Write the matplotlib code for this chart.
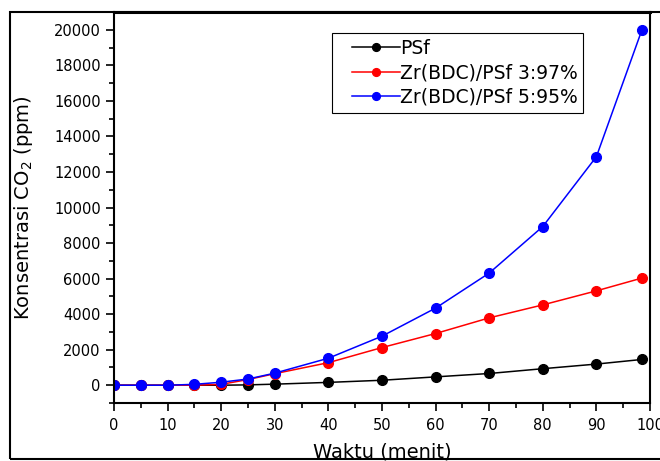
import matplotlib
matplotlib.use("Agg")
import matplotlib.pyplot as plt
from matplotlib.patches import Rectangle
from matplotlib.ticker import MultipleLocator
from matplotlib.legend_handler import HandlerLine2D

# DATOS
waktu = [0, 5, 10, 15, 20, 25, 30, 40, 50, 60, 70, 80, 90, 98.5]
psf = [0, 0, 0, 0, 0, 20, 60, 160, 280, 470, 660, 930, 1190, 1450]
zr_3_97 = [0, 0, 0, 0, 50, 320, 650, 1270, 2120, 2910, 3790, 4520, 5310, 6030]
zr_5_95 = [0, 0, 0, 50, 170, 350, 680, 1520, 2760, 4340, 6310, 8930, 12860, 20000]

labels = ["PSf", "Zr(BDC)/PSf 3:97%", "Zr(BDC)/PSf 5:95%"]
colores = ["black", "red", "blue"]

plt.rcParams["font.family"] = ["DejaVu Sans"]
plt.rcParams["mathtext.default"] = "regular"

fig = plt.figure(figsize=(6.6, 4.61), dpi=100)
ax = fig.add_axes([114 / 660, 1 - 403 / 461, 536 / 660, 391 / 461])

# marco exterior
fig.patches.append(Rectangle((10 / 660, 2 / 461), 1.0, 447 / 461,
                             transform=fig.transFigure, fill=False,
                             edgecolor="black", linewidth=1.5, zorder=10))

lineas = []
for serie, lab, col in zip([psf, zr_3_97, zr_5_95], labels, colores):
    ln, = ax.plot(waktu, serie, color=col, linewidth=1.1, marker="o",
                  markersize=7, label=lab)
    lineas.append(ln)

ax.set_xlim(0, 100)
ax.set_ylim(-1000, 21000)
ax.xaxis.set_major_locator(MultipleLocator(10))
ax.xaxis.set_minor_locator(MultipleLocator(5))
ax.yaxis.set_major_locator(MultipleLocator(2000))
ax.yaxis.set_minor_locator(MultipleLocator(1000))
ax.tick_params(which="major", direction="out", length=6, width=1.2,
               labelsize=10.5, top=False, right=False)
ax.tick_params(axis="x", which="major", pad=4.5)
ax.tick_params(axis="y", which="major", pad=3.5)
ax.tick_params(which="minor", direction="out", length=3.5, width=1.2,
               top=False, right=False)
for s in ["left", "bottom", "right"]:
    ax.spines[s].set_linewidth(1.5)
ax.spines["top"].set_linewidth(2.2)

ax.set_xlabel("Waktu (menit)", fontsize=14)
ax.set_ylabel("Konsentrasi CO$_2$ (ppm)", fontsize=14)
ax.xaxis.set_label_coords(0.5, -0.102)
ax.yaxis.set_label_coords(-0.147, 0.5)

manejador = {ln: HandlerLine2D(xpad=0.77) for ln in lineas}
leg = ax.legend(handler_map=manejador, loc="upper left",
                bbox_to_anchor=(0.4067, 0.946),
                fontsize=13.5, fancybox=False, framealpha=1,
                edgecolor="black", markerscale=0.8, handlelength=3.33,
                handletextpad=0.0, borderpad=0.3, labelspacing=0.3,
                borderaxespad=0)
leg.get_frame().set_linewidth(0.8)

fig.savefig("out.png", dpi=100)
